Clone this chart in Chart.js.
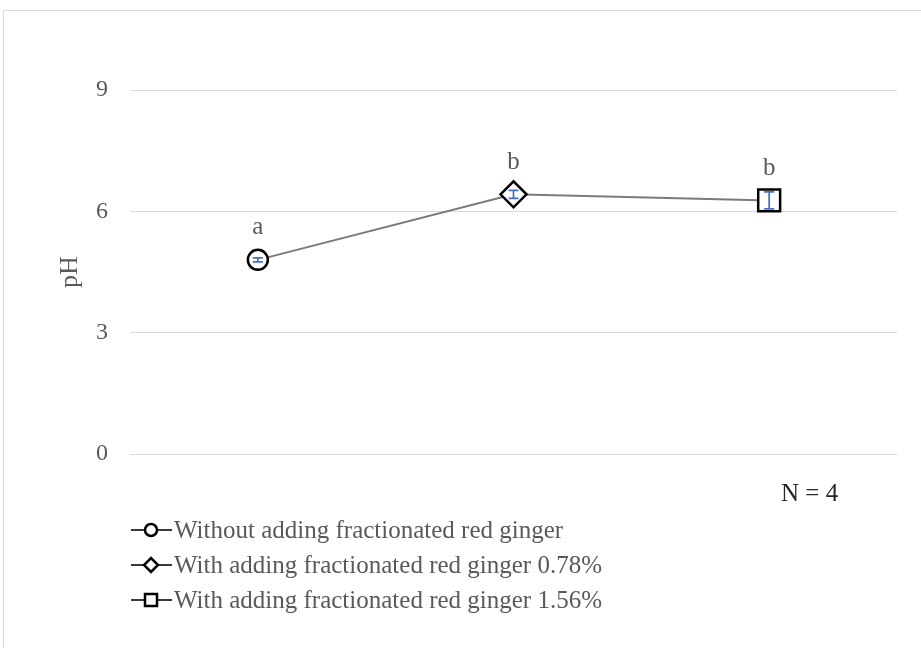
<!DOCTYPE html>
<html>
<head>
<meta charset="utf-8">
<script src="https://cdn.jsdelivr.net/npm/chart.js@4.4.1/dist/chart.umd.min.js"></script>
<style>
  html, body { margin: 0; padding: 0; background: #fff; overflow: hidden; }
  #frame { position: absolute; left: 3px; top: 10px; width: 940px; height: 660px; border: 1px solid #d9d9d9; box-sizing: border-box; }
  #wrap { position: absolute; left: 0; top: 0; width: 921px; height: 648px; }
</style>
</head>
<body>
<div id="frame"></div>
<div id="wrap"><canvas id="c" width="921" height="648"></canvas></div>
<script>
// Treatments, mean pH and spread
const categories = [
  'Without adding fractionated red ginger',
  'With adding fractionated red ginger 0.78%',
  'With adding fractionated red ginger 1.56%'
];
const phValues = [4.80, 6.42, 6.27];
const phErrors = [0.05, 0.10, 0.21];
const groupLetters = ['a', 'b', 'b'];
const yTicks = [0, 3, 6, 9];
const sampleNote = 'N = 4';
const markerStyles = ['circle', 'rectRot', 'rect'];

const SERIF = '"Liberation Serif", "DejaVu Serif", serif';
const TEXT_GREY = '#595959';

// whiskers drawn over the markers
const errorBarPlugin = {
  id: 'errorBars',
  afterDatasetsDraw(chart) {
    const { ctx, scales: { x, y } } = chart;
    ctx.save();
    ctx.strokeStyle = '#4472c4';
    ctx.lineWidth = 1.75;
    phValues.forEach((v, i) => {
      const px = x.getPixelForValue(i);
      const top = y.getPixelForValue(v + phErrors[i]);
      const bot = y.getPixelForValue(v - phErrors[i]);
      ctx.beginPath();
      ctx.moveTo(px, top); ctx.lineTo(px, bot);
      ctx.moveTo(px - 5, top); ctx.lineTo(px + 5, top);
      ctx.moveTo(px - 5, bot); ctx.lineTo(px + 5, bot);
      ctx.stroke();
    });
    ctx.restore();
  }
};

// significance letters above each point
const letterPlugin = {
  id: 'groupLetters',
  afterDatasetsDraw(chart) {
    const { ctx, scales: { x, y } } = chart;
    ctx.save();
    ctx.font = '25px ' + SERIF;
    ctx.fillStyle = TEXT_GREY;
    ctx.textAlign = 'center';
    ctx.textBaseline = 'middle';
    phValues.forEach((v, i) => {
      ctx.fillText(groupLetters[i], x.getPixelForValue(i), y.getPixelForValue(v) - 32);
    });
    ctx.restore();
  }
};

function drawMarker(ctx, style, cx, cy, r) {
  ctx.beginPath();
  if (style === 'circle') {
    ctx.arc(cx, cy, r, 0, Math.PI * 2);
  } else if (style === 'rectRot') {
    ctx.moveTo(cx, cy - r); ctx.lineTo(cx + r, cy); ctx.lineTo(cx, cy + r); ctx.lineTo(cx - r, cy); ctx.closePath();
  } else {
    ctx.rect(cx - r, cy - r, 2 * r, 2 * r);
  }
  ctx.fillStyle = '#fff';
  ctx.fill();
  ctx.stroke();
}

// sample note and stacked legend under the plot
const legendPlugin = {
  id: 'stackedLegend',
  afterDraw(chart) {
    const { ctx } = chart;
    ctx.save();
    ctx.font = '25px ' + SERIF;
    ctx.fillStyle = '#262626';
    ctx.textAlign = 'left';
    ctx.textBaseline = 'middle';
    ctx.fillText(sampleNote, 781, 494);

    const sizes = [6, 7, 6];
    categories.forEach((label, i) => {
      const cy = 530 + i * 35;
      ctx.strokeStyle = '#3a3a3a';
      ctx.lineWidth = 2;
      ctx.beginPath();
      ctx.moveTo(131, cy); ctx.lineTo(172, cy);
      ctx.stroke();
      ctx.strokeStyle = '#000';
      ctx.lineWidth = 2.5;
      drawMarker(ctx, markerStyles[i], 151, cy, sizes[i]);
      ctx.fillStyle = TEXT_GREY;
      ctx.font = '25px ' + SERIF;
      ctx.fillText(label, 174, cy + 1);
    });
    ctx.restore();
  }
};

new Chart(document.getElementById('c'), {
  type: 'line',
  data: {
    labels: categories,
    datasets: [{
      data: phValues,
      borderColor: '#7a7a7a',
      borderWidth: 2,
      tension: 0,
      pointStyle: markerStyles,
      pointRadius: [10, 13, 15.5],
      pointHoverRadius: [10, 13, 15.5],
      pointBorderWidth: 2.5,
      pointBorderColor: '#000',
      pointBackgroundColor: '#fff'
    }]
  },
  options: {
    responsive: false,
    devicePixelRatio: 1,
    animation: false,
    layout: { padding: { left: 52, top: 90, right: 24, bottom: 194 } },
    plugins: {
      legend: { display: false },
      tooltip: { enabled: false }
    },
    scales: {
      x: {
        type: 'category',
        display: false,
        offset: true
      },
      y: {
        min: 0,
        max: 9,
        afterBuildTicks(scale) { scale.ticks = yTicks.map(v => ({ value: v })); },
        afterFit(scale) { scale.width = 78; },
        grid: { color: '#d9d9d9', lineWidth: 1, drawTicks: false },
        border: { display: false },
        ticks: { color: TEXT_GREY, font: { family: SERIF, size: 24 }, padding: 22 },
        title: {
          display: true,
          text: 'pH',
          color: TEXT_GREY,
          font: { family: SERIF, size: 26 },
          padding: { top: 3, bottom: 0 }
        }
      }
    }
  },
  plugins: [errorBarPlugin, letterPlugin, legendPlugin]
});
</script>
</body>
</html>
